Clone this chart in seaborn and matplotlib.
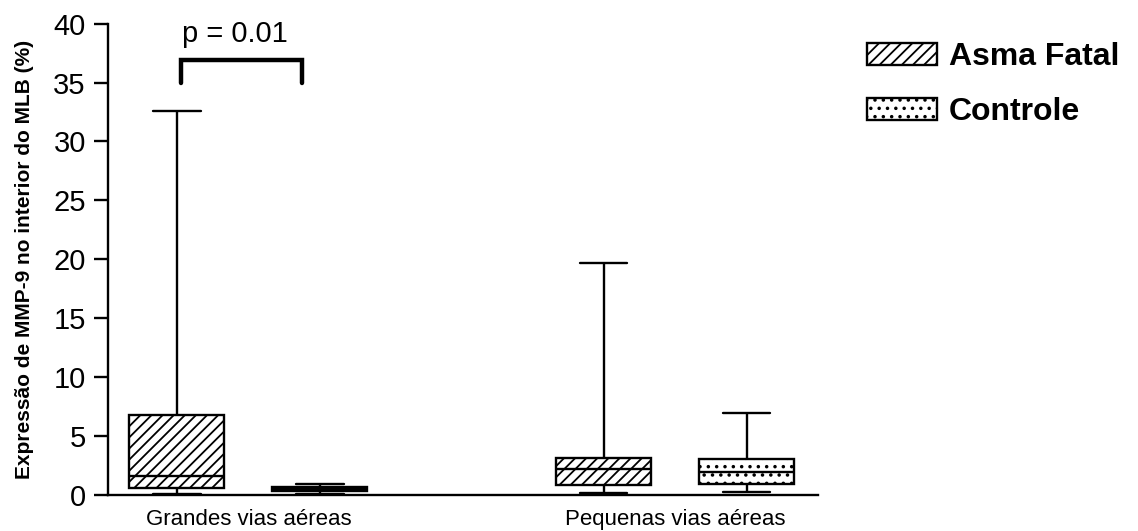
import matplotlib
matplotlib.use("Agg")
import matplotlib.pyplot as plt
from matplotlib.patches import Patch
import numpy as np
import pandas as pd
import seaborn as sns

# Airway regions and study groups
categories = ["Grandes vias aéreas", "Pequenas vias aéreas"]
groups = ["Asma Fatal", "Controle"]

# Five-number summaries (min, Q1, median, Q3, max) of MMP-9 expression (%)
asma_grandes = [0.1, 0.57, 1.64, 6.79, 32.6]
controle_grandes = [0.1, 0.34, 0.5, 0.7, 0.91]
asma_pequenas = [0.2, 0.85, 2.18, 3.1, 19.67]
controle_pequenas = [0.28, 0.91, 1.93, 3.06, 6.99]

y_ticks = [0, 5, 10, 15, 20, 25, 30, 35, 40]
p_label = "p = 0.01"

rows = []
for cat, grp, vals in [
    (categories[0], groups[0], asma_grandes),
    (categories[0], groups[1], controle_grandes),
    (categories[1], groups[0], asma_pequenas),
    (categories[1], groups[1], controle_pequenas),
]:
    for v in vals:
        rows.append({"regiao": cat, "grupo": grp, "valor": v})
df = pd.DataFrame(rows)

sns.set_style("ticks")
plt.rcParams["font.family"] = ["Liberation Sans", "DejaVu Sans"]
plt.rcParams["hatch.linewidth"] = 1.3
plt.rcParams["hatch.color"] = "black"
for key in ["text.color", "axes.labelcolor", "xtick.color", "ytick.color",
            "axes.edgecolor"]:
    plt.rcParams[key] = "black"

fig = plt.figure(figsize=(11.38, 5.31), dpi=100)
ax = fig.add_axes([0.0949, 0.0678, 0.6239, 0.8878])

sns.boxplot(
    data=df, x="regiao", y="valor", hue="grupo",
    order=categories, hue_order=groups,
    whis=(0, 100), width=0.67, gap=0.335,
    palette={groups[0]: "white", groups[1]: "white"},
    linecolor="black", linewidth=1.7, legend=False, ax=ax,
)

hatches = {0: "///", 1: ".."}
for patch in ax.patches:
    ext = patch.get_path().get_extents()
    xc = (ext.x0 + ext.x1) / 2
    hue_idx = 0 if xc < round(xc) else 1
    patch.set_hatch(hatches[hue_idx])
    patch.set_edgecolor("black")

ax.set_xlim(-0.329, 1.335)
ax.set_ylim(0, 40)
ax.set_yticks(y_ticks)
ax.set_xlabel("")
ax.set_ylabel("Expressão de MMP-9 no interior do MLB (%)", fontsize=15,
              fontweight="bold", labelpad=14)
ax.tick_params(axis="y", labelsize=21, length=10, width=1.7, pad=6, color="black")
ax.tick_params(axis="x", labelsize=16, length=0, pad=10)
for side in ["top", "right"]:
    ax.spines[side].set_visible(False)
for side in ["left", "bottom"]:
    ax.spines[side].set_linewidth(1.7)
    ax.spines[side].set_color("black")

# Significance bracket between the two groups of large airways
ax.plot([-0.157, -0.157, 0.125, 0.125], [35.0, 36.9, 36.9, 35.0],
        color="black", lw=3.2, clip_on=False, solid_joinstyle="miter")
ax.text(-0.032, 38.45, p_label, ha="center", va="baseline", fontsize=21,
        clip_on=False)

handles = [
    Patch(facecolor="white", edgecolor="black", hatch="///", linewidth=1.7),
    Patch(facecolor="white", edgecolor="black", hatch="..", linewidth=1.7),
]
fig.legend(handles, groups, loc="upper left", bbox_to_anchor=(0.748, 0.951),
           frameon=False, prop={"size": 23, "weight": "bold"},
           handlelength=2.2, handleheight=0.7, handletextpad=0.35,
           labelspacing=0.78, borderpad=0.0)

fig.savefig("out.png", dpi=100)
